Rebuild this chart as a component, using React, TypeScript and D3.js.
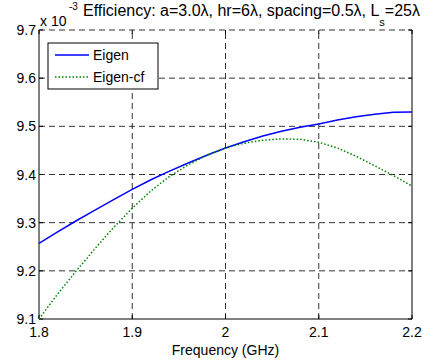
import * as d3 from "d3";

const FREQ = [1.8, 1.82, 1.84, 1.86, 1.88, 1.9, 1.92, 1.94, 1.96, 1.98, 2.0, 2.02, 2.04, 2.06, 2.08, 2.1, 2.12, 2.14, 2.16, 2.18, 2.2];
const EIGEN = [9.257, 9.281, 9.304, 9.326, 9.348, 9.369, 9.389, 9.407, 9.424, 9.44, 9.455, 9.468, 9.48, 9.49, 9.498, 9.505, 9.513, 9.52, 9.525, 9.529, 9.53];
const EIGEN_CF = [9.1, 9.152, 9.2, 9.246, 9.29, 9.33, 9.366, 9.396, 9.42, 9.44, 9.455, 9.465, 9.471, 9.474, 9.473, 9.467, 9.455, 9.438, 9.418, 9.398, 9.376];
const X_TICKS = [1.8, 1.9, 2.0, 2.1, 2.2];
const Y_TICKS = [9.1, 9.2, 9.3, 9.4, 9.5, 9.6, 9.7];

const W = 429;
const H = 362;
const m = { left: 39, right: 17, top: 30, bottom: 43 };
const FONT = "'Liberation Sans', Arial, sans-serif";

export default function App() {
  const x = d3.scaleLinear().domain([1.8, 2.2]).range([m.left, W - m.right]);
  const y = d3.scaleLinear().domain([9.1, 9.7]).range([H - m.bottom, m.top]);
  const line = d3.line<number>().x((_, i) => x(FREQ[i])).y((d) => y(d));
  const x0 = x(1.8), x1 = x(2.2), y0 = y(9.1), y1 = y(9.7);

  return (
    <svg width={W} height={H} style={{ position: "absolute", left: 0, top: 0, background: "#fff" }}
      fontFamily={FONT}>
      <rect x={0} y={0} width={W} height={H} fill="#fff" />
      {/* grid */}
      {X_TICKS.slice(1, -1).map((t) => (
        <line key={"gx" + t} x1={x(t)} x2={x(t)} y1={y0} y2={y1} stroke="#000" strokeWidth={0.8} strokeDasharray="6,4" />
      ))}
      {Y_TICKS.slice(1).map((t) => (
        <line key={"gy" + t} x1={x0} x2={x1} y1={y(t)} y2={y(t)} stroke="#000" strokeWidth={0.8} strokeDasharray="6,4" />
      ))}
      {/* ticks */}
      {X_TICKS.map((t) => (
        <g key={"tx" + t}>
          <line x1={x(t)} x2={x(t)} y1={y0} y2={y0 - 4} stroke="#000" />
          <line x1={x(t)} x2={x(t)} y1={y1} y2={y1 + 4} stroke="#000" />
          <text x={x(t)} y={y0 + 18} fontSize={14} textAnchor="middle">{t === 2 ? "2" : t.toFixed(1)}</text>
        </g>
      ))}
      {Y_TICKS.map((t) => (
        <g key={"ty" + t}>
          <line x1={x0} x2={x0 + 4} y1={y(t)} y2={y(t)} stroke="#000" />
          <line x1={x1} x2={x1 - 4} y1={y(t)} y2={y(t)} stroke="#000" />
          <text x={x0 - 3} y={y(t) + 5} fontSize={14} textAnchor="end">{t.toFixed(1)}</text>
        </g>
      ))}
      {/* axes box */}
      <line x1={x0} x2={x0} y1={y0} y2={y1} stroke="#000" strokeWidth={1} />
      <line x1={x1} x2={x1} y1={y0} y2={y1} stroke="#000" strokeWidth={1} />
      <line x1={x0} x2={x1} y1={y0} y2={y0} stroke="#000" strokeWidth={1} />

      {/* series */}
      <path d={line(EIGEN) ?? ""} fill="none" stroke="#0000ff" strokeWidth={1.5} />
      <path d={line(EIGEN_CF) ?? ""} fill="none" stroke="#008000" strokeWidth={1.5} strokeDasharray="1.5,2" />

      {/* legend */}
      <rect x={48} y={43} width={110} height={46} fill="#fff" stroke="#000" strokeWidth={1} />
      <line x1={55} x2={89} y1={55} y2={55} stroke="#0000ff" strokeWidth={1.5} />
      <text x={93} y={60} fontSize={14}>Eigen</text>
      <line x1={55} x2={89} y1={77} y2={77} stroke="#008000" strokeWidth={1.5} strokeDasharray="1.5,2" />
      <text x={93} y={82} fontSize={14}>Eigen-cf</text>

      {/* title & multiplier */}
      <text x={40} y={26} fontSize={14}>x 10</text>
      <text x={69} y={10} fontSize={10}>-3</text>
      <text x={83} y={16} fontSize={16}>
        Efficiency: a=3.0λ, hr=6λ, spacing=0.5λ, L<tspan dy={10} fontSize={11}>s</tspan><tspan dy={-10}>=25λ</tspan>
      </text>

      {/* x label */}
      <text x={(x0 + x1) / 2} y={H - 7} fontSize={14} textAnchor="middle">Frequency (GHz)</text>
    </svg>
  );
}
